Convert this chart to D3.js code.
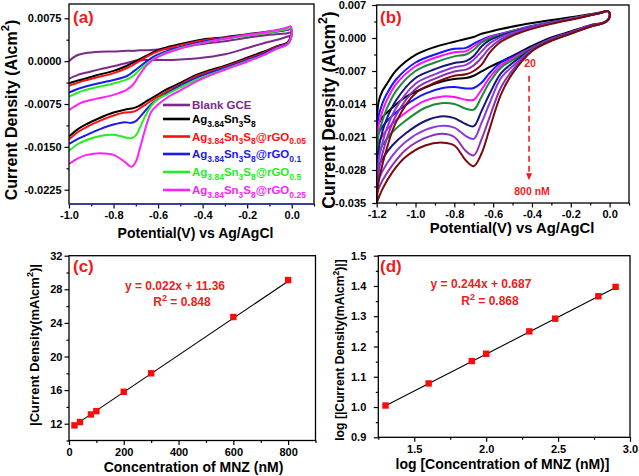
<!DOCTYPE html>
<html><head><meta charset="utf-8">
<script src="https://cdn.jsdelivr.net/npm/d3@7"></script>
<style>
body{margin:0;background:#fff}
svg text{font-family:"Liberation Sans",Arial,sans-serif;font-weight:bold}
</style></head>
<body><svg id="chart" width="639" height="476"></svg>
<script>
// ---------------- Panel (a) data ----------------
const aUpperX = [-1.0,-0.97,-0.94,-0.88,-0.8,-0.74,-0.71,-0.68,-0.65,-0.62,-0.58,-0.5,-0.4,-0.3,-0.2,-0.1,-0.02,-0.005];
const aLowerX = [0.0,-0.005,-0.02,-0.06,-0.13,-0.2,-0.3,-0.42,-0.5,-0.56,-0.6,-0.63,-0.66,-0.68,-0.7,-0.72,-0.75,-0.8,-0.86,-0.92,-0.96,-1.0];
const aNames = ["Blank GCE","Ag_{3.84}Sn_{3}S_{8}","Ag_{3.84}Sn_{3}S_{8}@rGO_{0.05}","Ag_{3.84}Sn_{3}S_{8}@rGO_{0.1}","Ag_{3.84}Sn_{3}S_{8}@rGO_{0.5}","Ag_{3.84}Sn_{3}S_{8}@rGO_{0.25}"];
const aColors = ["#7b2a8b","#000000","#ff1010","#1a1aee","#22ee22","#ff20ff"];
const aBlankUp   = [0.0,0.0009,0.0013,0.0016,0.0017,0.0018,0.0018,0.0019,0.0019,0.0020,0.0021,0.0024,0.0030,0.0035,0.0041,0.0046,0.0049,0.0050];
const aBlankLow  = [0.0048,0.0045,0.0043,0.0038,0.0031,0.0023,0.0012,0.0005,0.0003,0.0002,0.0002,0.0002,0.0002,0.0001,0.0001,-0.0001,-0.0004,-0.0009,-0.0014,-0.0020,-0.0024,-0.0031];
const aBareUp    = [-0.0039,-0.0035,-0.0032,-0.0025,-0.0017,-0.0008,-0.0002,0.0004,0.0010,0.0016,0.0022,0.0030,0.0038,0.0042,0.0047,0.0052,0.0055,0.0056];
const aBareLow   = [0.0053,0.0042,0.0032,0.0027,0.0016,0.0006,-0.0008,-0.0023,-0.0038,-0.0049,-0.0058,-0.0065,-0.0072,-0.0077,-0.0081,-0.0083,-0.0085,-0.0090,-0.0099,-0.0110,-0.0119,-0.0132];
const aRgo005Up  = [-0.0043,-0.0039,-0.0035,-0.0029,-0.0021,-0.0012,-0.0006,0.0001,0.0008,0.0014,0.0020,0.0028,0.0036,0.0041,0.0046,0.0051,0.0055,0.0056];
const aRgo005Low = [0.0052,0.0040,0.0031,0.0026,0.0014,0.0004,-0.0010,-0.0025,-0.0041,-0.0053,-0.0062,-0.0069,-0.0077,-0.0082,-0.0087,-0.0089,-0.0090,-0.0095,-0.0104,-0.0115,-0.0124,-0.0137];
const aRgo01Up   = [-0.0055,-0.0050,-0.0046,-0.0040,-0.0033,-0.0026,-0.0018,-0.0009,0.0000,0.0008,0.0015,0.0025,0.0034,0.0040,0.0045,0.0050,0.0055,0.0057];
const aRgo01Low  = [0.0052,0.0039,0.0030,0.0025,0.0012,0.0002,-0.0012,-0.0028,-0.0043,-0.0056,-0.0066,-0.0075,-0.0088,-0.0097,-0.0105,-0.0108,-0.0107,-0.0111,-0.0119,-0.0129,-0.0136,-0.0145];
const aRgo05Up   = [-0.0062,-0.0057,-0.0052,-0.0046,-0.0039,-0.0032,-0.0025,-0.0014,-0.0004,0.0004,0.0012,0.0023,0.0032,0.0039,0.0045,0.0050,0.0056,0.0058];
const aRgo05Low  = [0.0052,0.0038,0.0029,0.0023,0.0010,0.0000,-0.0014,-0.0031,-0.0046,-0.0058,-0.0066,-0.0078,-0.0098,-0.0115,-0.0130,-0.0135,-0.0133,-0.0129,-0.0131,-0.0138,-0.0145,-0.0157];
const aRgo025Up  = [-0.0086,-0.0078,-0.0072,-0.0066,-0.0059,-0.0050,-0.0040,-0.0022,-0.0007,0.0003,0.0011,0.0022,0.0032,0.0039,0.0046,0.0052,0.0059,0.0061];
const aRgo025Low = [0.0054,0.0038,0.0029,0.0023,0.0010,-0.0001,-0.0015,-0.0034,-0.0051,-0.0064,-0.0076,-0.0088,-0.0122,-0.0150,-0.0176,-0.0185,-0.0176,-0.0164,-0.0161,-0.0164,-0.0170,-0.0180];
const aUps  = [aBlankUp,aBareUp,aRgo005Up,aRgo01Up,aRgo05Up,aRgo025Up];
const aLows = [aBlankLow,aBareLow,aRgo005Low,aRgo01Low,aRgo05Low,aRgo025Low];
const aXTicks = [-1.0,-0.8,-0.6,-0.4,-0.2,0.0], aXMinor = [-0.9,-0.7,-0.5,-0.3,-0.1,0.1];
const aYTicks = [0.0075,0.0,-0.0075,-0.015,-0.0225], aYMinor = [0.00375,-0.00375,-0.01125,-0.01875];

// ---------------- Panel (b) data ----------------
const bUpperX = [-1.2,-1.19,-1.17,-1.15,-1.1,-1.0,-0.9,-0.8,-0.74,-0.7,-0.66,-0.62,-0.56,-0.45,-0.3,-0.15,-0.05,-0.01];
const bLowerX = [0.0,-0.005,-0.03,-0.1,-0.2,-0.3,-0.4,-0.5,-0.56,-0.62,-0.66,-0.7,-0.74,-0.8,-0.86,-0.95,-1.05,-1.12,-1.17,-1.2];
const bColors = ["#000000","#1515ff","#ff10ff","#1d8a36","#16167a","#8a3be0","#8b2fb5","#7a0a0a"];
const b20Up   = [-0.019,-0.0135,-0.0112,-0.0099,-0.0069,-0.0036,-0.0019,-0.0008,-0.0002,0.0002,0.0009,0.0013,0.0019,0.0028,0.0038,0.0047,0.0054,0.0057];
const b40Up   = [-0.021,-0.0165,-0.0138,-0.0120,-0.0088,-0.0052,-0.0035,-0.0023,-0.0021,-0.0012,-0.0004,0.0003,0.0009,0.0021,0.0034,0.0045,0.0053,0.0057];
const b80Up   = [-0.023,-0.0185,-0.0155,-0.0134,-0.0098,-0.0060,-0.0042,-0.0030,-0.0028,-0.0018,-0.0007,0.0001,0.0008,0.0020,0.0033,0.0045,0.0053,0.0057];
const b100Up  = [-0.025,-0.0205,-0.0175,-0.0152,-0.0112,-0.0070,-0.0052,-0.0039,-0.0035,-0.0025,-0.0010,-0.0001,0.0007,0.0019,0.0033,0.0045,0.0053,0.0057];
const b200Up  = [-0.028,-0.0235,-0.0198,-0.0173,-0.0132,-0.0085,-0.0066,-0.0053,-0.0049,-0.0038,-0.0018,-0.0005,0.0005,0.0018,0.0032,0.0044,0.0053,0.0057];
const b300Up  = [-0.031,-0.0260,-0.0222,-0.0194,-0.0148,-0.0097,-0.0077,-0.0062,-0.0057,-0.0046,-0.0029,-0.0012,0.0002,0.0017,0.0032,0.0044,0.0053,0.0057];
const b600Up  = [-0.033,-0.0285,-0.0245,-0.0216,-0.0164,-0.0108,-0.0086,-0.0071,-0.0067,-0.0058,-0.0042,-0.0022,-0.0003,0.0015,0.0031,0.0044,0.0053,0.0057];
const b800Up  = [-0.035,-0.0305,-0.0268,-0.0237,-0.0178,-0.0117,-0.0095,-0.0080,-0.0077,-0.0070,-0.0057,-0.0032,-0.0008,0.0013,0.0030,0.0043,0.0053,0.0057];
const b20Low  = [0.0053,0.0041,0.0033,0.0027,0.0014,0.0001,-0.0017,-0.0038,-0.0050,-0.0062,-0.0071,-0.0080,-0.0085,-0.0087,-0.0092,-0.0105,-0.0125,-0.0148,-0.0168,-0.019];
const b40Low  = [0.0053,0.0040,0.0032,0.0026,0.0012,-0.0001,-0.0020,-0.0040,-0.0052,-0.0075,-0.0095,-0.0106,-0.0107,-0.0104,-0.0106,-0.0118,-0.0142,-0.0165,-0.0188,-0.021];
const b80Low  = [0.0053,0.0040,0.0032,0.0026,0.0012,-0.0002,-0.0021,-0.0043,-0.0058,-0.0085,-0.0110,-0.0131,-0.0131,-0.0125,-0.0124,-0.0133,-0.0158,-0.0182,-0.0207,-0.023];
const b100Low = [0.0053,0.0040,0.0032,0.0025,0.0011,-0.0003,-0.0022,-0.0047,-0.0063,-0.0095,-0.0125,-0.0152,-0.0150,-0.0140,-0.0138,-0.0148,-0.0175,-0.0200,-0.0227,-0.025];
const b200Low = [0.0053,0.0040,0.0032,0.0025,0.0011,-0.0004,-0.0024,-0.0053,-0.0075,-0.0120,-0.0155,-0.0187,-0.0183,-0.0170,-0.0166,-0.0176,-0.0202,-0.0228,-0.0256,-0.028];
const b300Low = [0.0053,0.0040,0.0032,0.0025,0.0010,-0.0005,-0.0025,-0.0060,-0.0085,-0.0140,-0.0180,-0.0214,-0.0208,-0.0190,-0.0186,-0.0195,-0.0220,-0.0250,-0.0282,-0.031];
const b600Low = [0.0053,0.0040,0.0032,0.0024,0.0010,-0.0005,-0.0026,-0.0068,-0.0105,-0.0170,-0.0215,-0.0249,-0.0240,-0.0210,-0.0203,-0.0212,-0.0237,-0.0270,-0.0302,-0.033];
const b800Low = [0.0053,0.0040,0.0032,0.0024,0.0009,-0.0006,-0.0028,-0.0075,-0.0120,-0.0195,-0.0245,-0.0272,-0.0260,-0.0228,-0.0222,-0.0228,-0.0252,-0.0285,-0.0320,-0.035];
const bUps  = [b20Up,b40Up,b80Up,b100Up,b200Up,b300Up,b600Up,b800Up];
const bLows = [b20Low,b40Low,b80Low,b100Low,b200Low,b300Low,b600Low,b800Low];
const bXTicks = [-1.2,-1.0,-0.8,-0.6,-0.4,-0.2,0.0], bXMinor = [-1.1,-0.9,-0.7,-0.5,-0.3,-0.1,0.1];
const bYTicks = [0.007,0.0,-0.007,-0.014,-0.021,-0.028,-0.035], bYMinor = [0.0035,-0.0035,-0.0105,-0.0175,-0.0245,-0.0315];

// ---------------- Panel (c) data ----------------
const cConc = [20,40,80,100,200,300,600,800];
const cCurrent = [11.8,12.2,13.1,13.5,15.8,18.0,24.7,29.1];
const cFitX = [20,800], cFitY = [11.8,28.96];
const cXTicks = [0,200,400,600,800], cXMinor = [100,300,500,700,900];
const cYTicks = [12,16,20,24,28,32], cYMinor = [10,14,18,22,26,30];

// ---------------- Panel (d) data ----------------
const dLogConc = [1.30,1.60,1.90,2.00,2.30,2.48,2.78,2.90];
const dLogCurrent = [1.005,1.078,1.152,1.176,1.250,1.292,1.366,1.397];
const dFitX = [1.30,2.90], dFitY = [1.004,1.395];
const dXTicks = [1.5,2.0,2.5,3.0], dXMinor = [1.25,1.75,2.25,2.75];
const dYTicks = [0.9,1.0,1.1,1.2,1.3,1.4,1.5], dYMinor = [0.95,1.05,1.15,1.25,1.35,1.45];

// ---------------- helpers ----------------
const svg = d3.select("#chart");
const RED = "#ee1c1c";

function rich(sel, str, size, subSize, shift){
  const parts = str.split(/(_\{[^}]*\}|\^\{[^}]*\})/).filter(p=>p.length);
  let cur = 0;
  parts.forEach(p=>{
    let target = 0, fs = size, t = p;
    if (p.startsWith("_{")) { target = shift; fs = subSize; t = p.slice(2,-1); }
    else if (p.startsWith("^{")) { target = -shift; fs = subSize; t = p.slice(2,-1); }
    sel.append("tspan").attr("dy", target-cur).attr("font-size", fs).text(t);
    cur = target;
  });
}

function drawAxes(x, y, o){
  const g = svg.append("g");
  const y0 = y.range()[0], y1 = y.range()[1], x0 = x.range()[0], x1 = x.range()[1];
  const mk = (axis, tr) => { const a = g.append("g").attr("transform", tr).call(axis); a.select(".domain").remove(); return a; };
  mk(d3.axisBottom(x).tickValues(o.xMinor).tickSize(2.5).tickFormat(""), `translate(0,${y0})`);
  const bx = mk(d3.axisBottom(x).tickValues(o.xMajor).tickSize(4.5).tickPadding(o.xPad).tickFormat(o.xFmt), `translate(0,${y0})`);
  mk(d3.axisLeft(y).tickValues(o.yMinor).tickSize(2.5).tickFormat(""), `translate(${x0},0)`);
  const ly = mk(d3.axisLeft(y).tickValues(o.yMajor).tickSize(4.5).tickPadding(o.yPad).tickFormat(o.yFmt), `translate(${x0},0)`);
  g.selectAll(".tick line").attr("stroke","#000").attr("stroke-width",1.2);
  [bx,ly].forEach(a=>a.selectAll("text")
    .attr("font-size",o.fs||11).attr("font-weight","bold")
    .attr("font-family","'Liberation Sans',Arial,sans-serif").attr("fill","#000"));
  g.append("rect").attr("x",x0).attr("y",y1).attr("width",x1-x0).attr("height",y0-y1)
    .attr("fill","none").attr("stroke","#000").attr("stroke-width",1.3);
  if (o.bottomColor) g.append("line").attr("x1",x0).attr("x2",x1).attr("y1",y0).attr("y2",y0)
    .attr("stroke",o.bottomColor).attr("stroke-width",1.3);
  return g;
}

function panelLetter(txt, x, y){
  svg.append("text").attr("x",x).attr("y",y).text(txt)
    .attr("font-family","'Liberation Serif','Times New Roman',serif")
    .attr("font-size",17).attr("font-weight","bold").attr("fill",RED);
}
function xLabel(str, cx, by, size){
  const t = svg.append("text").attr("x",cx).attr("y",by).attr("text-anchor","middle").attr("fill","#000");
  rich(t, str, size, size*0.7, size*0.45);
}
function yLabel(str, bx, cy, size){
  const t = svg.append("text").attr("transform",`translate(${bx},${cy}) rotate(-90)`).attr("text-anchor","middle").attr("fill","#000");
  rich(t, str, size, size*0.7, size*0.45);
}
function clip(id, x, y){
  svg.append("clipPath").attr("id",id).append("rect")
    .attr("x",x.range()[0]).attr("y",y.range()[1])
    .attr("width",x.range()[1]-x.range()[0]).attr("height",y.range()[0]-y.range()[1]);
}

const fmt = n => v => (Math.abs(v) < 1e-12 ? 0 : v).toFixed(n);

// ---------------- Panel (a) ----------------
{
  const x = d3.scaleLinear().domain([-1.0,0.1]).range([69,314]);
  const y = d3.scaleLinear().domain([-0.025,0.010]).range([204,4]);
  clip("clipA", x, y);
  const line = d3.line().x(d=>x(d[0])).y(d=>y(d[1])).curve(d3.curveCatmullRom.alpha(0.5));
  const gc = svg.append("g").attr("clip-path","url(#clipA)");
  aNames.forEach((n,i)=>{
    const pts = aUpperX.map((v,j)=>[v,aUps[i][j]]).concat(aLowerX.map((v,j)=>[v,aLows[i][j]]));
    gc.append("path").attr("d",line(pts)).attr("fill","none").attr("stroke",aColors[i]).attr("stroke-width",2);
  });
  drawAxes(x, y, {xMajor:aXTicks,xMinor:aXMinor,yMajor:aYTicks,yMinor:aYMinor,xFmt:fmt(1),yFmt:fmt(4),xPad:3,yPad:3,bottomColor:"#2a3aa8"});
  // legend
  const lg = svg.append("g");
  const rows = [105,119,136.5,154,172,190];
  aNames.forEach((n,i)=>{
    lg.append("line").attr("x1",163).attr("x2",190).attr("y1",rows[i]).attr("y2",rows[i])
      .attr("stroke",aColors[i]).attr("stroke-width",2.6);
    const t = lg.append("text").attr("x",192).attr("y",rows[i]+4).attr("fill",aColors[i]);
    rich(t, n, 11.5, 8.5, 3.5);
  });
  panelLetter("(a)", 73, 23);
  xLabel("Potential(V) vs Ag/AgCl", 195.5, 238, 14);
  yLabel("Current Density (A\\cm^{2})", 16.5, 110, 16);
}

// ---------------- Panel (b) ----------------
{
  const x = d3.scaleLinear().domain([-1.2,0.1]).range([376.7,629]);
  const y = d3.scaleLinear().domain([-0.035,0.007]).range([203,5]);
  clip("clipB", x, y);
  const line = d3.line().x(d=>x(d[0])).y(d=>y(d[1])).curve(d3.curveCatmullRom.alpha(0.5));
  const gc = svg.append("g").attr("clip-path","url(#clipB)");
  bUps.forEach((up,i)=>{
    const pts = bUpperX.map((v,j)=>[v,up[j]]).concat(bLowerX.map((v,j)=>[v,bLows[i][j]]));
    gc.append("path").attr("d",line(pts)).attr("fill","none").attr("stroke",bColors[i]).attr("stroke-width",2);
  });
  drawAxes(x, y, {xMajor:bXTicks,xMinor:bXMinor,yMajor:bYTicks,yMinor:bYMinor,xFmt:fmt(1),yFmt:fmt(3),xPad:2.5,yPad:6});
  // annotation arrow
  const ax = x(-0.415);
  svg.append("text").attr("x",ax+1).attr("y",y(-0.0061)).attr("text-anchor","middle")
    .attr("font-size",10.5).attr("fill",RED).text("20");
  svg.append("line").attr("x1",ax).attr("x2",ax).attr("y1",y(-0.0080)).attr("y2",y(-0.0285))
    .attr("stroke",RED).attr("stroke-width",1.6).attr("stroke-dasharray","6,4");
  const tip = y(-0.0302);
  svg.append("path").attr("d",`M${ax-3},${tip-7}L${ax+3},${tip-7}L${ax},${tip}Z`).attr("fill",RED);
  svg.append("text").attr("x",ax+3).attr("y",y(-0.0333)).attr("text-anchor","middle")
    .attr("font-size",10.5).attr("fill",RED).text("800 nM");
  panelLetter("(b)", 380, 23);
  xLabel("Potential(V) vs Ag/AgCl", 512, 232.5, 14.8);
  yLabel("Current Density (A\\cm^{2})", 335, 110, 17.5);
}

// ---------------- Panel (c) ----------------
{
  const x = d3.scaleLinear().domain([0,900]).range([69,315.5]);
  const y = d3.scaleLinear().domain([10,32]).range([440.5,255.7]);
  svg.append("path").attr("d",d3.line().x(d=>x(d[0])).y(d=>y(d[1]))(cFitX.map((v,i)=>[v,cFitY[i]])))
    .attr("stroke","#000").attr("stroke-width",1.1).attr("fill","none");
  svg.append("g").selectAll("rect").data(cConc).join("rect")
    .attr("x",(d,i)=>x(d)-3.2).attr("y",(d,i)=>y(cCurrent[i])-3.2).attr("width",6.4).attr("height",6.4)
    .attr("fill","#ff0a0a");
  drawAxes(x, y, {xMajor:cXTicks,xMinor:cXMinor,yMajor:cYTicks,yMinor:cYMinor,xFmt:d3.format("d"),yFmt:d3.format("d"),xPad:3.5,yPad:2});
  svg.append("text").attr("x",175).attr("y",290).attr("text-anchor","middle").attr("font-size",12).attr("fill",RED).text("y = 0.022x + 11.36");
  const r = svg.append("text").attr("x",182).attr("y",306).attr("text-anchor","middle").attr("fill",RED);
  rich(r, "R^{2} = 0.848", 12, 9, 5);
  panelLetter("(c)", 73, 272);
  xLabel("Concentration of MNZ (nM)", 193.5, 471.5, 14);
  yLabel("|Current Density(mA\\cm^{2})|", 39, 345, 13);
}

// ---------------- Panel (d) ----------------
{
  const x = d3.scaleLinear().domain([1.25,3.0]).range([378.3,630]);
  const y = d3.scaleLinear().domain([0.9,1.5]).range([437.3,255.7]);
  svg.append("path").attr("d",d3.line().x(d=>x(d[0])).y(d=>y(d[1]))(dFitX.map((v,i)=>[v,dFitY[i]])))
    .attr("stroke","#000").attr("stroke-width",1.1).attr("fill","none");
  svg.append("g").selectAll("rect").data(dLogConc).join("rect")
    .attr("x",d=>x(d)-3.2).attr("y",(d,i)=>y(dLogCurrent[i])-3.2).attr("width",6.4).attr("height",6.4)
    .attr("fill","#ff0a0a");
  drawAxes(x, y, {xMajor:dXTicks,xMinor:dXMinor,yMajor:dYTicks,yMinor:dYMinor,xFmt:fmt(1),yFmt:fmt(1),xPad:3,yPad:7.5});
  svg.append("text").attr("x",481).attr("y",288).attr("text-anchor","middle").attr("font-size",12).attr("fill",RED).text("y = 0.244x + 0.687");
  const r = svg.append("text").attr("x",490).attr("y",305).attr("text-anchor","middle").attr("fill",RED);
  rich(r, "R^{2} = 0.868", 12, 9, 5);
  panelLetter("(d)", 380, 272);
  xLabel("log [Concentration of MNZ (nM)]", 502.5, 468.5, 14);
  yLabel("log [|Current Density(mA\\cm^{2})|]", 344, 350, 12.2);
}
</script></body></html>
